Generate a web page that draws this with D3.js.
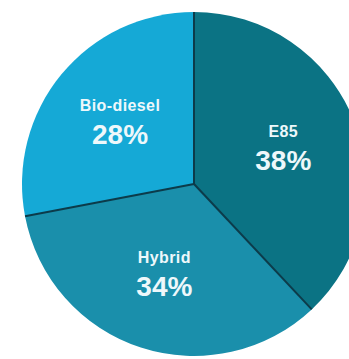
<!DOCTYPE html>
<html lang="en">
  <head>
    <meta charset="utf-8">
    <title>Fuel share</title>
    <style>
      html, body {
        margin: 0;
        background: #fff;
        font-family: "Liberation Sans", Arial, sans-serif;
      }
      svg {
        display: block;
      }
    </style>
    <script src="https://d3js.org/d3.v7.min.js"></script>
  </head>
  <body>
    <svg width="349" height="359"></svg>
  <script>
  // slices, clockwise from 12 o'clock
  const fuels = ['E85', 'Hybrid', 'Bio-diesel'];
  const shares = [38, 34, 28];
  const sliceColors = ['#0b7384', '#1a8fab', '#15a9d6'];

  const data = fuels.map((name, i) => ({ name, value: shares[i] }));

  const svg = d3.select('svg');
  const cx = 194, cy = 184, radius = 172;

  const pie = d3.pie()
    .value(d => d.value)
    .sort(null);

  const arc = d3.arc()
    .innerRadius(0)
    .outerRadius(radius);

  // labels sit on a ring inside the pie
  const labelArc = d3.arc()
    .innerRadius(96)
    .outerRadius(96);

  const color = d3.scaleOrdinal()
    .domain(fuels)
    .range(sliceColors);

  const g = svg.append('g')
    .attr('transform', `translate(${cx},${cy})`);

  const arcs = pie(data);

  g.selectAll('path')
    .data(arcs)
    .enter().append('path')
    .attr('d', arc)
    .attr('fill', d => color(d.data.name));

  // dark divider lines between slices
  g.selectAll('line')
    .data(arcs)
    .enter().append('line')
    .attr('x1', 0)
    .attr('y1', 0)
    .attr('x2', d => radius * Math.sin(d.startAngle))
    .attr('y2', d => -radius * Math.cos(d.startAngle))
    .attr('stroke', '#0c3b4a')
    .attr('stroke-width', 2);

  const labels = g.selectAll('g.label')
    .data(arcs)
    .enter().append('g')
    .attr('class', 'label')
    .attr('transform', d => `translate(${labelArc.centroid(d)})`)
    .attr('text-anchor', 'middle')
    .attr('fill', '#eef8fb')
    .attr('font-weight', 'bold');

  labels.append('text')
    .attr('y', -12)
    .attr('font-size', 16)
    .attr('letter-spacing', '0.4px')
    .text(d => d.data.name);

  labels.append('text')
    .attr('y', 21)
    .attr('font-size', 28)
    .text(d => d.data.value + '%');
  </script>
  </body>
</html>
